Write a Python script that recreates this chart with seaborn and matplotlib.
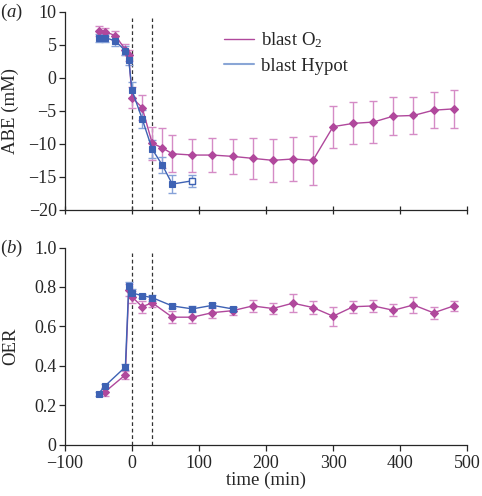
import numpy as np
import pandas as pd
import matplotlib
matplotlib.use("Agg")
import matplotlib.pyplot as plt
import seaborn as sns
from matplotlib.lines import Line2D

# ---- data ----
# Panel (a): ABE (mM)
o2_t_top = [-50, -40, -25, -10, -5, 0, 15, 30, 45, 60, 90, 120, 150, 180, 210, 240, 270, 300, 330, 360, 390, 420, 450, 480]
o2_abe = [7.1, 7.0, 6.4, 4.3, 3.4, -3.0, -4.5, -9.9, -10.6, -11.5, -11.7, -11.7, -11.9, -12.2, -12.5, -12.3, -12.5, -7.4, -6.9, -6.7, -5.8, -5.7, -4.9, -4.7]
o2_abe_err = [0.7, 0.6, 0.7, 0.9, 0.9, 1.6, 1.9, 2.5, 3.0, 2.8, 2.5, 2.6, 2.6, 3.1, 3.3, 3.4, 3.7, 3.2, 3.2, 3.2, 2.9, 2.8, 2.7, 2.9]

hyp_t_top = [-50, -40, -25, -10, -5, 0, 15, 30, 45, 60, 90]
hyp_abe = [6.1, 6.1, 5.6, 4.1, 2.7, -1.9, -6.2, -10.8, -13.2, -16.1, -15.6]
hyp_abe_err = [0.6, 0.6, 0.7, 0.7, 0.8, 1.2, 1.4, 1.4, 1.2, 1.4, 0.9]
hyp_top_open = [False] * 10 + [True]

# Panel (b): OER
o2_t_bot = [-40, -10, -5, 0, 15, 30, 60, 90, 120, 150, 180, 210, 240, 270, 300, 330, 360, 390, 420, 450, 480]
o2_oer = [0.27, 0.355, 0.785, 0.75, 0.70, 0.72, 0.647, 0.647, 0.67, 0.68, 0.704, 0.691, 0.718, 0.696, 0.652, 0.70, 0.704, 0.682, 0.709, 0.669, 0.704]
o2_oer_err = [0.02, 0.02, 0.03, 0.03, 0.03, 0.02, 0.03, 0.03, 0.025, 0.02, 0.03, 0.03, 0.046, 0.035, 0.048, 0.03, 0.03, 0.03, 0.04, 0.03, 0.025]

hyp_t_bot = [-50, -40, -10, -5, 0, 15, 30, 60, 90, 120, 150]
hyp_oer = [0.26, 0.30, 0.395, 0.805, 0.77, 0.756, 0.746, 0.704, 0.689, 0.707, 0.689]
hyp_oer_err = [0.01, 0.01, 0.015, 0.02, 0.02, 0.01, 0.015, 0.01, 0.015, 0.01, 0.01]

event_times = [0, 30]
legend_labels = ["blast O$_2$", "blast Hypot"]

# ---- style ----
sns.set_style("ticks")
plt.rcParams["font.family"] = ["Liberation Serif", "DejaVu Serif"]
plt.rcParams["mathtext.fontset"] = "custom"
plt.rcParams["mathtext.rm"] = "Liberation Serif"
plt.rcParams["mathtext.it"] = "Liberation Serif:italic"
plt.rcParams["font.size"] = 13
plt.rcParams["axes.linewidth"] = 0.9

TICK_FS = 13
LABEL_FS = 13.5
PINK = "#b0489c"
PINK_ERR = "#d58bc6"
BLUE = "#3e62b4"
BLUE_ERR = "#86a2d8"
BLUE_LEG = "#8aa6d6"

fig = plt.figure(figsize=(4.82, 4.96), dpi=100)
ax1 = fig.add_axes([0.135, 0.577, 0.834, 0.399])
ax2 = fig.add_axes([0.135, 0.103, 0.834, 0.398])


def draw_series(ax, t, y, err, color, ecolor, marker, ms, label, open_flags=None):
    df = pd.DataFrame({"t": t, "y": y})
    ax.errorbar(t, y, yerr=err, fmt="none", ecolor=ecolor, elinewidth=1.0,
                capsize=3, capthick=1.0, zorder=2)
    sns.lineplot(data=df, x="t", y="y", ax=ax, color=color, lw=1.0,
                 marker=marker, markersize=ms, markeredgecolor=color,
                 markeredgewidth=0.8, label=label, legend=False, zorder=3,
                 estimator=None, sort=False)
    if open_flags is not None:
        sel = [i for i, f in enumerate(open_flags) if f]
        ax.plot([t[i] for i in sel], [y[i] for i in sel], ls="none",
                marker=marker, markersize=ms, markerfacecolor="white",
                markeredgecolor=color, markeredgewidth=1.0, zorder=4)


# panel (a)
draw_series(ax1, o2_t_top, o2_abe, o2_abe_err, PINK, PINK_ERR, "D", 4.0, legend_labels[0])
draw_series(ax1, hyp_t_top, hyp_abe, hyp_abe_err, BLUE, BLUE_ERR, "s", 5.0, legend_labels[1], hyp_top_open)

# panel (b)
draw_series(ax2, o2_t_bot, o2_oer, o2_oer_err, PINK, PINK_ERR, "D", 4.0, None)
draw_series(ax2, hyp_t_bot, hyp_oer, hyp_oer_err, BLUE, BLUE_ERR, "s", 5.0, None)

for ax in (ax1, ax2):
    for et in event_times:
        ax.axvline(et, ls=(0, (3, 2.2)), color="#333333", lw=0.9, ymax=0.97, zorder=1)
    ax.set_xlim(-100, 500)
    ax.set_xticks(np.arange(-100, 501, 100))
    ax.tick_params(direction="out", length=4, width=0.9, labelsize=TICK_FS, pad=2)
    sns.despine(ax=ax)

ax1.set_ylim(-20, 10)
ax1.set_yticks(np.arange(-20, 11, 5))
ax1.set_yticklabels(["\u221220", "\u221215", "\u221210", "\u22125", "0", "5", "10"])
ax1.tick_params(axis="x", labelbottom=False, direction="inout", length=6)
ax1.set_xlabel("")
ax1.set_ylabel("ABE (mM)", fontsize=LABEL_FS)
ax1.yaxis.set_label_coords(-0.115, 0.5)

ax2.set_ylim(0, 1.0)
ax2.set_yticks(np.arange(0, 1.01, 0.2))
ax2.set_yticklabels(["0", "0.2", "0.4", "0.6", "0.8", "1.0"])
ax2.set_xticklabels(["\u2212100", "0", "100", "200", "300", "400", "500"])
ax2.tick_params(axis="x", pad=3)
ax2.set_xlabel("time (min)", fontsize=LABEL_FS, labelpad=0)
ax2.set_ylabel("OER", fontsize=LABEL_FS)
ax2.yaxis.set_label_coords(-0.115, 0.5)

# legend (lines only)
handles = [Line2D([], [], color=PINK, lw=1.0), Line2D([], [], color=BLUE_LEG, lw=1.5)]
ax1.legend(handles, legend_labels, loc="upper left", bbox_to_anchor=(0.395, 0.905),
           frameon=False, fontsize=LABEL_FS, handlelength=1.6, handletextpad=0.4,
           labelspacing=0.4, borderaxespad=0, borderpad=0)

fig.text(0.0, 0.975, "($\\it{a}$)", fontsize=LABEL_FS, va="center", ha="left")
fig.text(0.0, 0.500, "($\\it{b}$)", fontsize=LABEL_FS, va="center", ha="left")

fig.savefig("out.png", dpi=100)
